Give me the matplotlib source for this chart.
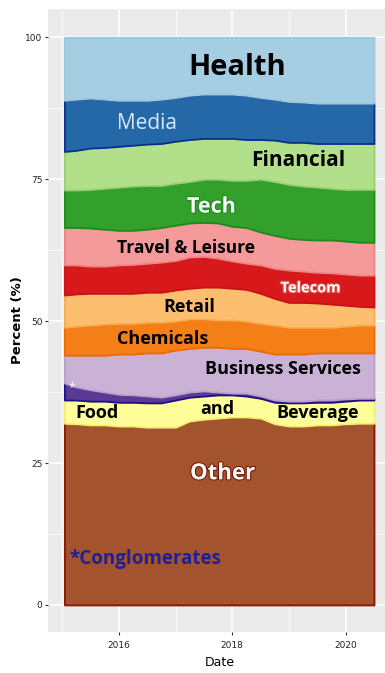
import numpy as np
import matplotlib
matplotlib.use("Agg")
import matplotlib.pyplot as plt
import matplotlib.patheffects as pe

# quarterly dates (decimal years)
dates = [2015.04, 2015.25, 2015.5, 2015.75, 2016.0, 2016.25, 2016.5, 2016.75,
         2017.0, 2017.25, 2017.5, 2017.75, 2018.0, 2018.25, 2018.5, 2018.75,
         2019.0, 2019.25, 2019.5, 2019.75, 2020.0, 2020.25, 2020.5]

# sector shares in percent, bottom to top
other = [32.0, 31.9, 31.7, 31.7, 31.5, 31.5, 31.3, 31.3, 31.3, 32.4, 32.7, 32.9,
         33.1, 33.1, 32.9, 31.9, 31.5, 31.5, 31.7, 31.7, 31.9, 32.0, 32.0]
food = [4.1, 4.2, 4.2, 4.2, 4.2, 4.2, 4.3, 4.3, 4.8, 4.2, 4.1, 4.1,
        3.9, 3.7, 3.5, 3.8, 4.1, 4.1, 4.0, 4.0, 4.0, 4.1, 4.1]
conglomerates = [3.0, 2.3, 2.0, 1.6, 1.4, 1.3, 1.2, 1.0, 0.9, 0.9, 0.9, 0.5,
                 0.3, 0.5, 0.4, 0.4, 0.3, 0.3, 0.4, 0.4, 0.4, 0.3, 0.3]
business = [4.9, 5.6, 6.1, 6.5, 7.1, 7.2, 7.6, 7.8, 7.9, 7.7, 7.7, 7.9,
            7.9, 7.9, 7.9, 8.1, 8.3, 8.3, 8.3, 8.3, 8.1, 8.0, 8.0]
chemicals = [4.9, 5.1, 5.3, 5.5, 5.4, 5.4, 5.4, 5.4, 5.1, 5.2, 5.0, 4.8,
             5.0, 4.8, 4.9, 5.1, 4.7, 4.7, 4.5, 4.5, 4.7, 4.9, 4.9]
retail = [5.7, 5.7, 5.6, 5.4, 5.3, 5.3, 5.3, 5.3, 5.5, 5.4, 5.6, 5.8,
          5.6, 5.6, 5.3, 4.7, 4.4, 4.4, 4.3, 4.1, 3.7, 3.3, 3.2]
telecom = [5.3, 5.1, 4.8, 4.8, 5.0, 5.1, 5.1, 5.3, 5.2, 5.5, 5.4, 5.1,
           4.8, 4.6, 5.0, 5.3, 5.7, 5.5, 5.4, 5.5, 5.5, 5.5, 5.6]
travel = [6.6, 6.6, 6.7, 6.5, 6.1, 6.0, 6.0, 6.1, 6.2, 6.0, 6.0, 6.2,
          6.1, 6.3, 5.8, 5.8, 5.6, 5.6, 5.7, 5.8, 5.8, 5.8, 5.8]
tech = [6.6, 6.6, 6.8, 7.2, 7.6, 7.8, 7.7, 7.4, 7.4, 7.3, 7.6, 7.7,
        8.1, 8.3, 9.3, 9.5, 9.5, 9.4, 9.3, 9.1, 9.1, 9.3, 9.3]
financial = [6.8, 7.0, 7.3, 7.2, 7.2, 7.2, 7.3, 7.4, 7.4, 7.4, 7.2, 7.2,
             7.4, 7.2, 7.0, 7.3, 7.4, 7.7, 7.7, 7.9, 8.1, 8.1, 8.1]
media = [9.0, 9.0, 8.8, 8.5, 8.1, 7.9, 7.7, 7.8, 7.7, 7.8, 7.8, 7.8,
         7.8, 7.8, 7.4, 7.2, 7.2, 7.1, 7.1, 7.1, 7.1, 7.1, 7.1]
health = [11.1, 10.9, 10.7, 10.9, 11.1, 11.1, 11.1, 10.9, 10.6, 10.2, 10.0, 10.0,
          10.0, 10.2, 10.6, 10.9, 11.3, 11.4, 11.6, 11.6, 11.6, 11.6, 11.6]

series = [other, food, conglomerates, business, chemicals, retail,
          telecom, travel, tech, financial, media, health]
fills = ["#A3542E", "#FFFF99", "#5B3A96", "#CAB2D6", "#F57F17", "#FDBF6F",
         "#D7191C", "#F49A9A", "#33A02C", "#B2DF8A", "#2568A8", "#A6CEE3"]
edges = ["#8B1200", "#F2EE70", "#1E0E8C", "#B8A0C8", "#EE6A00", "#F5AE50",
         "#C8101A", "#EE8585", "#1E8A1E", "#98D070", "#0A2E8C", "#9CC8DE"]

fig = plt.figure(figsize=(3.85, 6.73), dpi=100)
ax = fig.add_axes([48 / 385, 41 / 673, 343 / 385, 623 / 673])
ax.set_facecolor("#EBEBEB")

polys = ax.stackplot(dates, *series, colors=fills, zorder=2)
for p, ec in zip(polys, edges):
    p.set_edgecolor(ec)
    p.set_linewidth(1.3)

ax.set_xlim(2014.75, 2020.8)
ax.set_ylim(-4.77, 105.0)
ax.set_xticks([2016, 2018, 2020])
ax.set_xticks([2015, 2017, 2019], minor=True)
ax.set_yticks([0, 25, 50, 75, 100])
ax.set_yticks([12.5, 37.5, 62.5, 87.5], minor=True)
ax.grid(which="major", color="white", lw=1.1, zorder=0)
ax.grid(which="minor", color="white", lw=0.55, zorder=0)
ax.set_axisbelow(True)
for s in ax.spines.values():
    s.set_visible(False)
ax.tick_params(which="major", length=2.5, width=0.8, color="#333333",
               labelsize=6.5, labelcolor="#222222")
ax.tick_params(axis="x", which="major", pad=4)
ax.tick_params(axis="y", which="major", pad=1.5)
ax.tick_params(which="minor", length=0)
ax.set_xlabel("Date", fontsize=9, labelpad=4)
ax.set_ylabel("Percent (%)", fontsize=9.5, fontweight="bold", labelpad=1)

fam = ["Open Sans", "DejaVu Sans"]


def label(x, y, s, size, color="black", weight="bold", halo=None):
    t = ax.text(x, y, s, ha="center", va="center", fontsize=size, color=color,
                fontweight=weight, family=fam, zorder=5)
    if halo:
        t.set_path_effects([pe.withStroke(linewidth=1.5, foreground=halo)])


label(2018.09, 94.7, "Health", 21)
label(2016.49, 84.9, "Media", 15, color="#D8E9F7", weight="normal")
label(2019.17, 78.3, "Financial", 15)
label(2017.63, 70.1, "Tech", 15.5, color="white", halo="#1E8A1E")
label(2017.18, 62.9, "Travel & Leisure", 12.5)
label(2019.38, 55.8, "Telecom", 10.5, color="white", halo="#E05050")
label(2017.25, 52.5, "Retail", 13)
label(2016.77, 46.8, "Chemicals", 13)
label(2018.90, 41.5, "Business Services", 13)
label(2015.61, 33.8, "Food", 13)
label(2017.74, 34.6, "and", 13)
label(2019.51, 33.8, "Beverage", 13)
label(2017.83, 23.1, "Other", 16, color="white", halo="#7A1400")
label(2016.47, 8.1, "*Conglomerates", 13.5, color="#1F1F96")
label(2015.18, 38.2, "*", 9, color="white", weight="normal")

fig.savefig("out.png", dpi=100)
